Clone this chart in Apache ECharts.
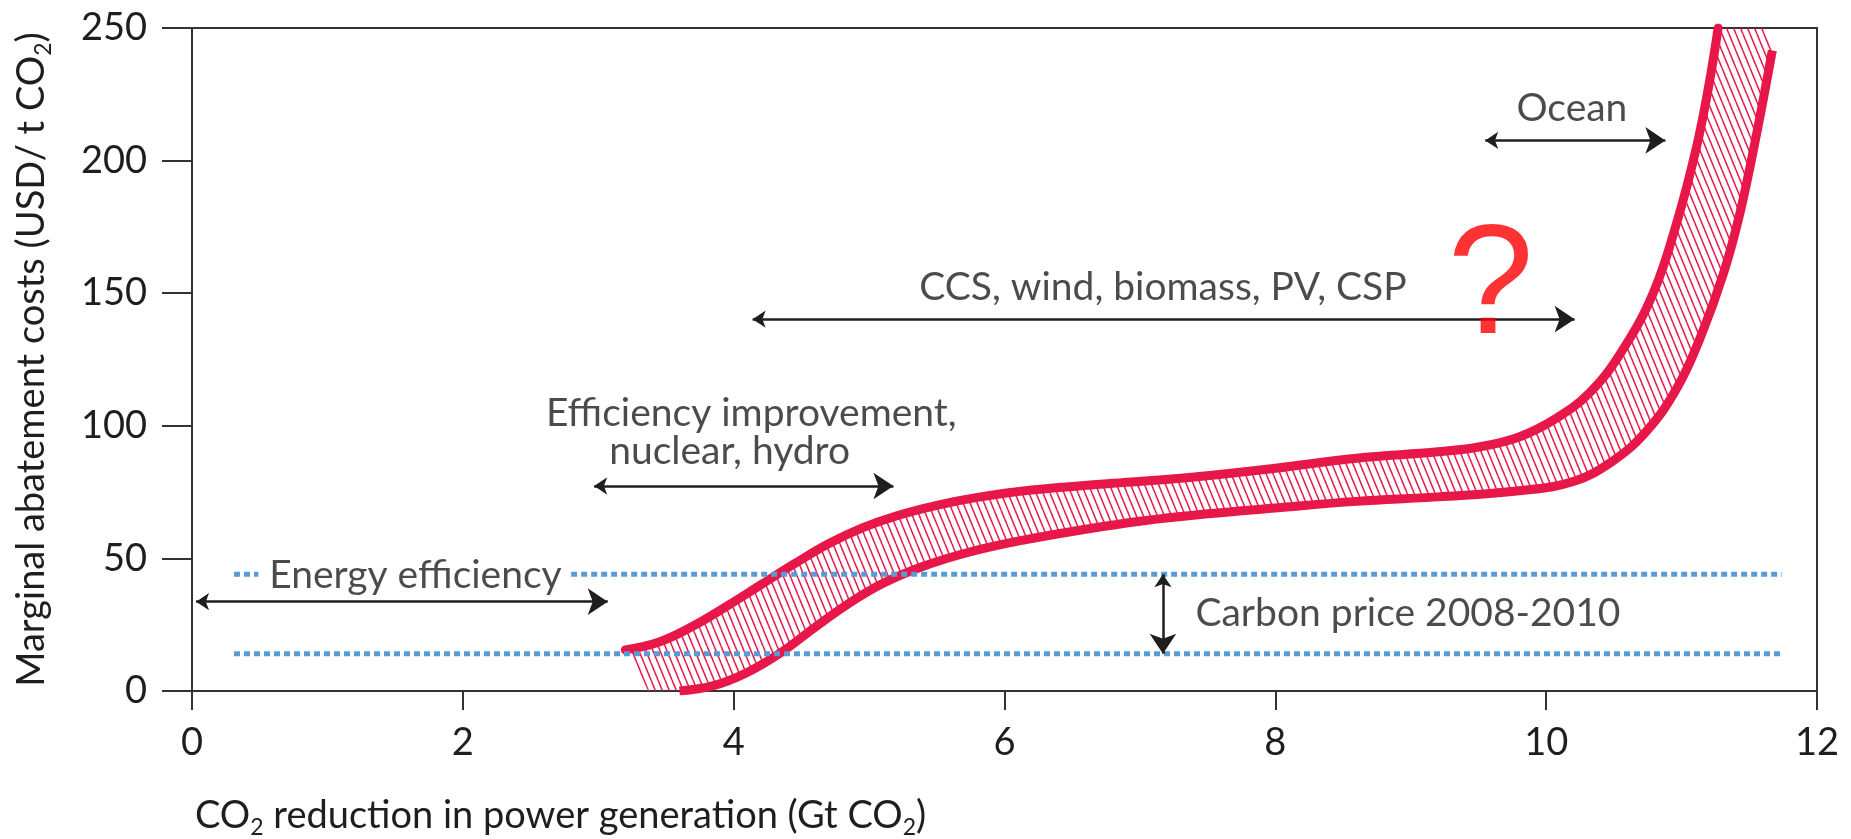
<!DOCTYPE html>
<html>
<head>
<meta charset="utf-8">
<script src="https://cdn.jsdelivr.net/npm/echarts@6/dist/echarts.min.js"></script>
<style>html,body{margin:0;height:100%;background:#fff}#chart{width:1851px;height:839px}</style>
</head>
<body>
<div id="chart"></div>
<script>
// band of marginal abatement costs, x = Gt CO2, y = USD/t CO2
var upperEdge = [[3.2,15.5],[3.45,18.5],[3.7,24.5],[3.95,32],[4.2,40],[4.45,48],[4.7,55.5],[4.95,61.5],[5.2,66],[5.5,70],[5.8,73],[6.2,75.8],[6.8,78.3],[7.4,80.7],[8.0,84],[8.6,87.8],[9.2,90.2],[9.5,92],[9.8,95.8],[10.08,103],[10.32,112.4],[10.55,127.4],[10.79,150],[10.97,177.6],[11.11,205],[11.2,228],[11.27,250]];
var lowerEdge = [[3.6,0],[3.85,2],[4.1,7],[4.35,14.5],[4.6,24],[4.85,33],[5.1,40.5],[5.4,47],[5.75,52.5],[6.15,57],[6.6,61],[7.0,64],[7.5,66.8],[8.0,69],[8.6,71.5],[9.2,73.2],[9.8,75.5],[10.2,79],[10.5,87],[10.75,98.5],[10.97,114.6],[11.14,133.5],[11.31,157.6],[11.43,180],[11.55,209],[11.67,241.5]];
var bandTopRight = [11.62, 250];
var bandBottomLeft = [3.37, 0];

// carbon price 2008-2010 range
var carbonPrice = [14, 44];
var lowSegments = [[0.31, 11.74]];
var highSegments = [[0.31, 0.49], [2.8, 11.74]];

// range arrows [from, to]
var arrows = [
  [[0.03, 33.7], [3.07, 33.7]],
  [[2.97, 77.3], [5.18, 77.3]],
  [[4.14, 140.2], [10.21, 140.2]],
  [[9.55, 207.6], [10.88, 207.6]],
  [[7.17, 44], [7.17, 14]]
];

// annotations [text, x, y, align]
var notes = [
  ['Energy efficiency', 1.65, 43.5, 'center'],
  ['Efficiency improvement,', 4.13, 104.8, 'center'],
  ['nuclear, hydro', 3.97, 90.5, 'center'],
  ['CCS, wind, biomass, PV, CSP', 7.17, 152.3, 'center'],
  ['Ocean', 10.19, 219.8, 'center'],
  ['Carbon price 2008-2010', 7.41, 29.2, 'left']
];
var question = ['?', 9.59, 151];

var red = '#e8174a';
var blue = '#5b9bd5';
var ink = '#1e1e1e';
var font = 'Lato';

function hatch() {
  var c = document.createElement('canvas');
  c.width = 7; c.height = 17;
  var g = c.getContext('2d');
  g.strokeStyle = red;
  g.lineWidth = 1.5;
  for (var k = -1; k <= 1; k++) {
    g.beginPath();
    g.moveTo(k * 7, 0);
    g.lineTo(k * 7 + 7, 17);
    g.stroke();
  }
  return c;
}
var hatchFill = { image: hatch(), repeat: 'repeat' };

var bandPolygon = upperEdge.concat([bandTopRight]).concat(lowerEdge.slice().reverse()).concat([bandBottomLeft]);

var subRich = {
  sub: { fontSize: 23, fontFamily: font, color: ink, lineHeight: 12, verticalAlign: 'bottom' }
};

var series = [
  {
    type: 'custom',
    z: 2,
    silent: true,
    data: [[0, 0]],
    renderItem: function (params, api) {
      return {
        type: 'polygon',
        shape: { points: bandPolygon.map(function (p) { return api.coord(p); }) },
        style: { fill: hatchFill, stroke: null }
      };
    }
  },
  {
    type: 'line', z: 3, data: upperEdge, smooth: 0.4, showSymbol: false, silent: true,
    lineStyle: { color: red, width: 9, cap: 'round' }
  },
  {
    type: 'line', z: 3, data: lowerEdge, smooth: 0.4, showSymbol: false, silent: true,
    lineStyle: { color: red, width: 9, cap: 'butt' }
  }
];

lowSegments.forEach(function (s) {
  series.push({
    type: 'line', z: 4, showSymbol: false, silent: true,
    data: [[s[0], carbonPrice[0]], [s[1], carbonPrice[0]]],
    lineStyle: { color: blue, width: 5, type: [6, 4], cap: 'butt' }
  });
});
highSegments.forEach(function (s) {
  series.push({
    type: 'line', z: 4, showSymbol: false, silent: true,
    data: [[s[0], carbonPrice[1]], [s[1], carbonPrice[1]]],
    lineStyle: { color: blue, width: 5, type: [6, 4], cap: 'butt' }
  });
});

series.push({
  type: 'lines',
  coordinateSystem: 'cartesian2d',
  z: 5,
  silent: true,
  symbol: ['arrow', 'arrow'],
  symbolSize: [13, 20],
  lineStyle: { color: ink, width: 2.5, opacity: 1, curveness: 0 },
  data: arrows.map(function (a) { return { coords: a }; })
});

series.push({
  type: 'scatter',
  z: 6,
  silent: true,
  symbolSize: 0,
  data: notes.map(function (n) {
    return { name: n[0], value: [n[1], n[2]], label: { align: n[3] } };
  }),
  label: {
    show: true,
    position: 'inside',
    formatter: '{b}',
    fontFamily: font,
    fontSize: 39,
    color: ink
  }
});

series.push({
  type: 'scatter',
  z: 6,
  silent: true,
  symbolSize: 0,
  data: [{ name: question[0], value: [question[1], question[2]] }],
  label: {
    show: true,
    position: 'inside',
    formatter: '{b}',
    fontFamily: 'Liberation Sans',
    fontSize: 155,
    color: '#ff0000'
  }
});

var chart = echarts.init(document.getElementById('chart'));
chart.setOption({
  animation: false,
  backgroundColor: '#fff',
  grid: {
    left: 192, right: 34, top: 28, bottom: 148,
    show: true, borderColor: '#333', borderWidth: 2,
    outerBoundsMode: 'none'
  },
  graphic: [{
    type: 'text',
    left: 195,
    top: 793,
    silent: true,
    style: {
      text: 'CO{sub|2} reduction in power generation (Gt CO{sub|2})',
      fontSize: 38, fontFamily: font, fill: ink, lineHeight: 46, rich: subRich
    }
  }],
  xAxis: {
    type: 'value', min: 0, max: 12, interval: 2,
    axisLine: { show: true, lineStyle: { color: '#333', width: 2 } },
    axisTick: { show: true, length: 19, lineStyle: { color: '#333', width: 2 } },
    axisLabel: { margin: 33, fontSize: 38, fontFamily: font, color: ink },
    splitLine: { show: false }
  },
  yAxis: {
    type: 'value', min: 0, max: 250, interval: 50,
    axisLine: { show: true, lineStyle: { color: '#333', width: 2 } },
    axisTick: { show: true, length: 30, lineStyle: { color: '#333', width: 2 } },
    axisLabel: { margin: 45, fontSize: 38, fontFamily: font, color: ink },
    splitLine: { show: false },
    name: 'Marginal abatement costs (USD/ t CO{sub|2})',
    nameLocation: 'middle',
    nameGap: 137,
    nameTextStyle: { fontSize: 38, fontFamily: font, color: ink, lineHeight: 46, rich: subRich }
  },
  series: series
});
</script>
</body>
</html>
